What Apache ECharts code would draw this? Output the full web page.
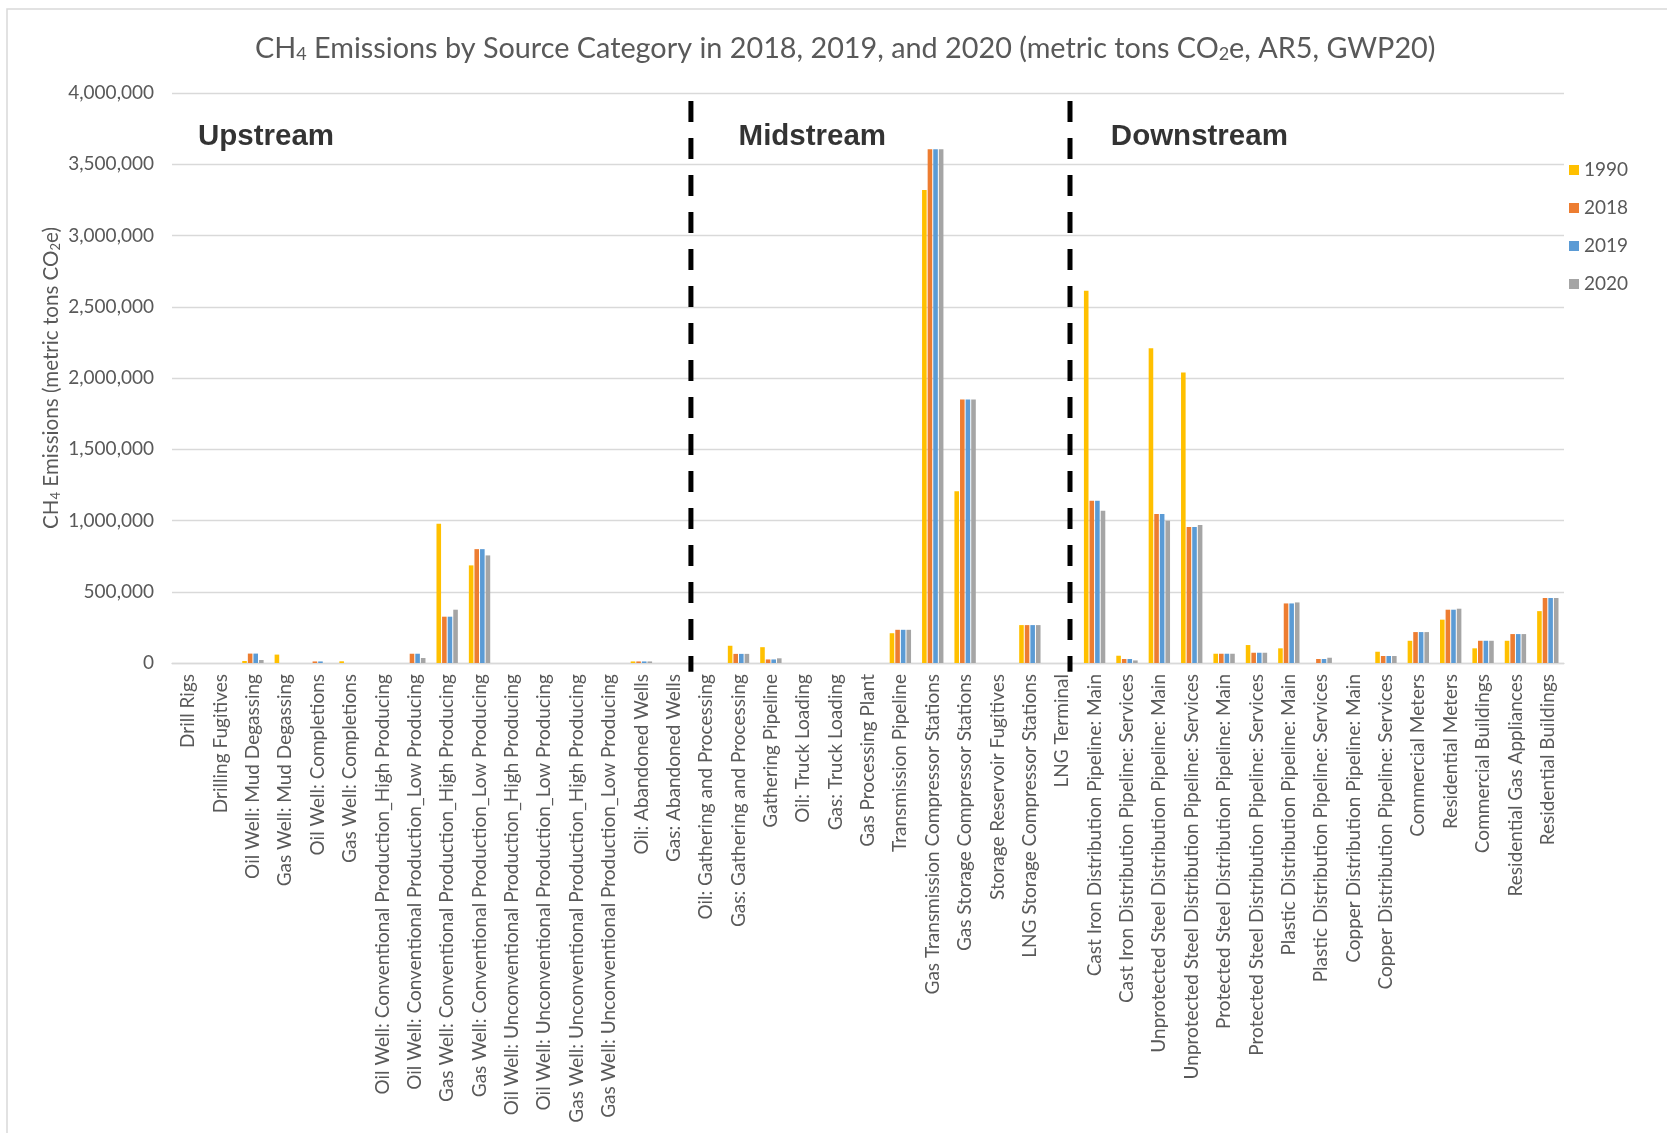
<!DOCTYPE html>
<html>
<head>
<meta charset="utf-8">
<script src="https://cdn.jsdelivr.net/npm/echarts@6/dist/echarts.min.js"></script>
<style>html,body{margin:0;padding:0;background:#fff}#c{width:1667px;height:1133px}</style>
</head>
<body>
<div id="c"></div>
<script>
// ---------------- data ----------------
const categories = [
  'Drill Rigs',
  'Drilling Fugitives',
  'Oil Well: Mud Degassing',
  'Gas Well: Mud Degassing',
  'Oil Well: Completions',
  'Gas Well: Completions',
  'Oil Well: Conventional Production_High Producing',
  'Oil Well: Conventional Production_Low Producing',
  'Gas Well: Conventional Production_High Producing',
  'Gas Well: Conventional Production_Low Producing',
  'Oil Well: Unconventional Production_High Producing',
  'Oil Well: Unconventional Production_Low Producing',
  'Gas Well: Unconventional Production_High Producing',
  'Gas Well: Unconventional Production_Low Producing',
  'Oil: Abandoned Wells',
  'Gas: Abandoned Wells',
  'Oil: Gathering and Processing',
  'Gas: Gathering and Processing',
  'Gathering Pipeline',
  'Oil: Truck Loading',
  'Gas: Truck Loading',
  'Gas Processing Plant',
  'Transmission Pipeline',
  'Gas Transmission Compressor Stations',
  'Gas Storage Compressor Stations',
  'Storage Reservoir Fugitives',
  'LNG Storage Compressor Stations',
  'LNG Terminal',
  'Cast Iron Distribution Pipeline: Main',
  'Cast Iron Distribution Pipeline: Services',
  'Unprotected Steel Distribution Pipeline: Main',
  'Unprotected Steel Distribution Pipeline: Services',
  'Protected Steel Distribution Pipeline: Main',
  'Protected Steel Distribution Pipeline: Services',
  'Plastic Distribution Pipeline: Main',
  'Plastic Distribution Pipeline: Services',
  'Copper Distribution Pipeline: Main',
  'Copper Distribution Pipeline: Services',
  'Commercial Meters',
  'Residential Meters',
  'Commercial Buildings',
  'Residential Gas Appliances',
  'Residential Buildings'
];

const years = ['1990', '2018', '2019', '2020'];

const values1990 = [
  0, 0, 14000, 59000, 0, 12000, 0, 0, 977000, 685000, 0, 0, 0, 0, 11000, 0,
  0, 121000, 111000, 0, 0, 0, 209000, 3320000, 1205000, 0, 266000, 0,
  2613000, 51000, 2209000, 2038000, 65000, 126000, 103000, 0, 0, 79000,
  156000, 304000, 103000, 156000, 364000
];
const values2018 = [
  0, 0, 66000, 0, 11000, 0, 0, 65000, 325000, 799000, 0, 0, 0, 0, 11000, 0,
  0, 64000, 25000, 0, 0, 0, 233000, 3605000, 1849000, 0, 266000, 0,
  1138000, 28000, 1045000, 954000, 65000, 72000, 418000, 28000, 0, 49000,
  217000, 374000, 156000, 203000, 456000
];
const values2019 = [
  0, 0, 66000, 0, 11000, 0, 0, 65000, 325000, 799000, 0, 0, 0, 0, 11000, 0,
  0, 64000, 25000, 0, 0, 0, 233000, 3605000, 1849000, 0, 266000, 0,
  1138000, 28000, 1045000, 954000, 65000, 72000, 418000, 28000, 0, 49000,
  217000, 374000, 156000, 203000, 456000
];
const values2020 = [
  0, 0, 21000, 0, 0, 0, 0, 35000, 374000, 755000, 0, 0, 0, 0, 11000, 0,
  0, 64000, 33000, 0, 0, 0, 233000, 3605000, 1849000, 0, 266000, 0,
  1068000, 18000, 998000, 968000, 65000, 72000, 425000, 37000, 0, 49000,
  217000, 381000, 156000, 203000, 456000
];

const yMin = 0;
const yMax = 4000000;
const yStep = 500000;

// section annotations (data-space anchors, category units on a 0..43 scale)
const sectionNames = ['Upstream', 'Midstream', 'Downstream'];
const sectionLabelX = [0.8, 17.5, 29.0];
const sectionLabelY = 3690000;
const dividerX = [16.03, 27.74];
const dividerTop = 3943000;
const dividerBottom = -61000;

// ---------------- chart ----------------
const FONT = 'Lato';
const GREY = '#595959';
const GRID = '#d9d9d9';
const yearColors = ['#FFC000', '#ED7D31', '#5B9BD5', '#A5A5A5'];
const yearValues = [values1990, values2018, values2019, values2020];

const chart = echarts.init(document.getElementById('c'), null, { renderer: 'canvas' });

const barSeries = years.map((y, i) => ({
  name: y,
  type: 'bar',
  xAxisIndex: 0,
  yAxisIndex: 0,
  data: yearValues[i],
  itemStyle: { color: yearColors[i] },
  barCategoryGap: '34%',
  barGap: '22%',
  silent: true
}));

const dividerSeries = dividerX.map(x => ({
  type: 'line',
  xAxisIndex: 1,
  yAxisIndex: 0,
  data: [[x, dividerTop], [x, dividerBottom]],
  symbol: 'none',
  clip: false,
  silent: true,
  z: 10,
  lineStyle: { color: '#000', width: 5, type: [21, 16], cap: 'butt' }
}));

const labelSeries = {
  type: 'scatter',
  xAxisIndex: 1,
  yAxisIndex: 0,
  symbolSize: 0.1,
  itemStyle: { color: 'rgba(0,0,0,0)' },
  silent: true,
  z: 11,
  data: sectionNames.map((n, i) => ({ name: n, value: [sectionLabelX[i], sectionLabelY] })),
  label: {
    show: true,
    position: 'right',
    distance: 0,
    formatter: '{b}',
    fontFamily: 'Liberation Sans, Arial, sans-serif',
    fontWeight: 'bold',
    fontSize: 29.5,
    color: '#000'
  }
};

const option = {
  backgroundColor: '#ffffff',
  animation: false,
  textStyle: { fontFamily: FONT },
  title: {
    text: '{a|CH}{s|4}{a| Emissions by Source Category in 2018, 2019, and 2020 (metric tons CO}{s|2}{a|e, AR5, GWP20)}',
    left: 255,
    top: 27,
    padding: 0,
    textStyle: {
      fontWeight: 'normal',
      rich: {
        a: { fontFamily: FONT, fontSize: 28.8, fontWeight: 'normal', color: GREY, lineHeight: 36, verticalAlign: 'bottom' },
        s: { fontFamily: FONT, fontSize: 18, fontWeight: 'normal', color: GREY, lineHeight: 18, verticalAlign: 'bottom' }
      }
    }
  },
  legend: {
    data: years,
    orient: 'vertical',
    left: 1569,
    top: 160,
    padding: 0,
    itemWidth: 10,
    itemHeight: 10,
    itemGap: 18,
    icon: 'rect',
    textStyle: { fontFamily: FONT, fontSize: 19, color: GREY, lineHeight: 20 }
  },
  grid: { left: 172, right: 103, top: 93, bottom: 470, containLabel: false },
  xAxis: [
    {
      type: 'category',
      data: categories,
      axisLine: { show: true, lineStyle: { color: GRID, width: 1.3 } },
      axisTick: { show: false },
      splitLine: { show: false },
      axisLabel: {
        rotate: 90,
        interval: 0,
        margin: 11,
        fontFamily: FONT,
        fontSize: 19,
        color: GREY
      }
    },
    {
      type: 'value',
      min: 0,
      max: categories.length,
      show: false,
      splitLine: { show: false }
    }
  ],
  yAxis: {
    type: 'value',
    min: yMin,
    max: yMax,
    interval: yStep,
    axisLine: { show: false },
    axisTick: { show: false },
    splitLine: { show: true, lineStyle: { color: GRID, width: 1.3 } },
    axisLabel: {
      margin: 18,
      fontFamily: FONT,
      fontSize: 19,
      color: GREY,
      formatter: v => v.toLocaleString('en-US')
    },
    name: '{a|CH}{s|4}{a| Emissions (metric tons CO}{s|2}{a|e)}',
    nameLocation: 'middle',
    nameGap: 110,
    nameMoveOverlap: false,
    nameTextStyle: {
      rich: {
        a: { fontFamily: FONT, fontSize: 20.6, color: GREY, lineHeight: 26, verticalAlign: 'bottom' },
        s: { fontFamily: FONT, fontSize: 13, color: GREY, lineHeight: 13, verticalAlign: 'bottom' }
      }
    }
  },
  graphic: [
    {
      type: 'rect',
      silent: true,
      shape: { x: 7, y: 9, width: 1700, height: 1200 },
      style: { fill: 'none', stroke: GRID, lineWidth: 1.5 }
    }
  ],
  series: [...barSeries, ...dividerSeries, labelSeries]
};

chart.setOption(option);
</script>
</body>
</html>
